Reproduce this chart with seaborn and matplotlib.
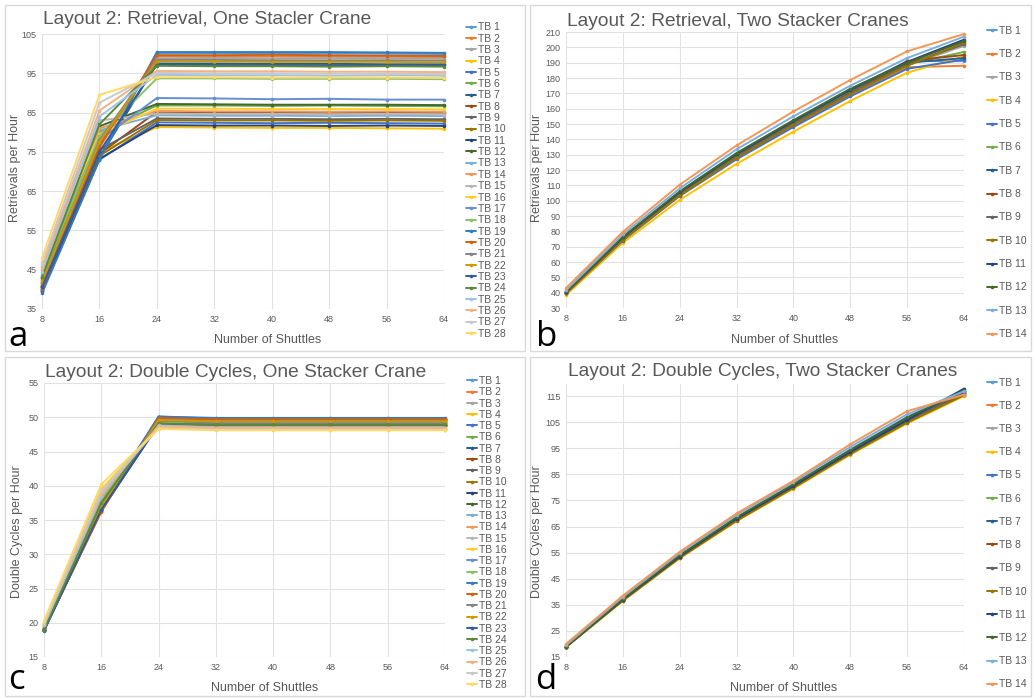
import numpy as np
import pandas as pd
import matplotlib
matplotlib.use("Agg")
import matplotlib.pyplot as plt
from matplotlib.patches import Rectangle
import seaborn as sns

# ---------------- data ----------------
shuttles = [8, 16, 24, 32, 40, 48, 56, 64]

labels28 = [f"TB {i}" for i in range(1, 29)]
labels14 = [f"TB {i}" for i in range(1, 15)]

excel_colors = ["#5B9BD5", "#ED7D31", "#A5A5A5", "#FFC000", "#4472C4", "#70AD47",
                "#255E91", "#9E480E", "#636363", "#997300", "#264478", "#43682B",
                "#7CAFDD", "#F1975A", "#B7B7B7", "#FFCD33", "#698ED0", "#8CC168",
                "#327DC2", "#D26012", "#848484", "#CC9A00", "#335AA1", "#5A8A39",
                "#9DC3E6", "#F4B183", "#C9C9C9", "#FFD966"]

# Panel a: Retrieval, one stacker crane
ret_one = {
    "TB 1": [39.5, 74.0, 100.0, 100.1, 100.0, 100.1, 100.0, 99.9],
    "TB 2": [40.5, 76.0, 99.3, 99.2, 99.3, 99.2, 99.2, 99.1],
    "TB 3": [41.0, 77.0, 98.8, 98.9, 98.8, 98.9, 98.8, 98.7],
    "TB 4": [41.5, 75.0, 81.3, 81.2, 81.1, 81.1, 81.0, 80.9],
    "TB 5": [39.8, 73.0, 82.5, 82.4, 82.3, 82.4, 82.3, 82.2],
    "TB 6": [42.5, 80.0, 86.8, 86.8, 86.7, 86.8, 86.7, 86.6],
    "TB 7": [40.0, 73.5, 97.5, 97.5, 97.4, 97.4, 97.3, 97.3],
    "TB 8": [40.5, 74.5, 85.2, 85.1, 85.1, 85.0, 85.1, 85.0],
    "TB 9": [40.8, 75.5, 83.5, 83.4, 83.4, 83.3, 83.4, 83.3],
    "TB 10": [41.0, 74.0, 83.1, 83.0, 83.0, 82.9, 83.0, 82.9],
    "TB 11": [39.5, 73.2, 81.8, 81.7, 81.7, 81.6, 81.7, 81.6],
    "TB 12": [43.0, 81.5, 87.2, 87.1, 87.0, 87.0, 87.0, 86.9],
    "TB 13": [44.0, 80.5, 84.3, 84.2, 84.2, 84.1, 84.2, 84.1],
    "TB 14": [45.0, 81.0, 85.4, 85.3, 85.3, 85.2, 85.3, 85.2],
    "TB 15": [46.0, 83.0, 84.7, 84.6, 84.6, 84.5, 84.6, 84.5],
    "TB 16": [47.0, 79.5, 86.0, 86.0, 85.9, 85.9, 85.9, 85.8],
    "TB 17": [42.0, 78.0, 88.7, 88.6, 88.4, 88.5, 88.3, 88.3],
    "TB 18": [43.5, 79.0, 93.7, 93.7, 93.6, 93.6, 93.6, 93.5],
    "TB 19": [39.0, 73.0, 100.4, 100.4, 100.4, 100.4, 100.3, 100.2],
    "TB 20": [40.0, 76.5, 99.6, 99.6, 99.7, 99.6, 99.5, 99.4],
    "TB 21": [41.5, 78.0, 98.4, 98.4, 98.3, 98.3, 98.3, 98.2],
    "TB 22": [42.0, 77.5, 98.0, 98.0, 97.9, 97.9, 97.9, 97.8],
    "TB 23": [40.5, 75.0, 97.2, 97.1, 97.1, 97.0, 97.1, 97.0],
    "TB 24": [43.2, 82.0, 96.9, 96.8, 96.8, 96.7, 96.8, 96.7],
    "TB 25": [44.5, 84.0, 94.6, 94.5, 94.5, 94.4, 94.5, 94.4],
    "TB 26": [45.5, 85.5, 95.6, 95.5, 95.5, 95.4, 95.4, 95.3],
    "TB 27": [46.5, 87.5, 95.1, 95.0, 95.0, 94.9, 94.9, 94.8],
    "TB 28": [48.0, 89.5, 94.0, 94.0, 93.9, 93.9, 93.9, 93.8],
}

# Panel b: Retrieval, two stacker cranes
ret_two = {
    "TB 1": [40.5, 76.0, 106.0, 131.0, 152.0, 172.0, 191.0, 191.0],
    "TB 2": [40.0, 75.0, 104.0, 128.0, 149.0, 169.0, 187.0, 188.0],
    "TB 3": [40.0, 75.0, 104.5, 129.0, 150.0, 170.5, 188.0, 201.0],
    "TB 4": [38.5, 72.5, 100.5, 124.0, 145.0, 165.0, 183.5, 194.0],
    "TB 5": [39.5, 74.0, 103.0, 127.0, 148.0, 168.0, 186.0, 192.0],
    "TB 6": [40.0, 75.5, 105.0, 129.5, 151.0, 171.0, 189.0, 197.0],
    "TB 7": [40.5, 75.5, 105.0, 130.0, 151.5, 172.0, 190.0, 193.0],
    "TB 8": [40.0, 75.0, 104.0, 128.5, 150.0, 170.0, 191.0, 195.0],
    "TB 9": [40.0, 75.5, 104.5, 129.0, 150.5, 170.5, 189.0, 202.0],
    "TB 10": [39.5, 74.5, 103.5, 128.0, 149.5, 169.5, 188.0, 203.0],
    "TB 11": [40.5, 76.0, 105.5, 130.5, 152.0, 172.5, 190.5, 205.0],
    "TB 12": [41.0, 76.5, 106.0, 131.0, 152.5, 173.0, 190.0, 204.0],
    "TB 13": [41.5, 78.0, 108.0, 133.5, 155.0, 175.0, 193.0, 207.0],
    "TB 14": [43.0, 79.7, 110.4, 136.0, 158.2, 178.7, 197.4, 208.7],
}

# Panel c: Double cycles, one stacker crane
dc_one = {
    "TB 1": [19.0, 37.0, 50.1, 49.8, 49.8, 49.8, 49.8, 49.8],
    "TB 2": [19.2, 36.8, 49.8, 49.6, 49.6, 49.6, 49.6, 49.6],
    "TB 3": [19.3, 37.5, 49.3, 49.0, 49.0, 49.0, 49.0, 49.0],
    "TB 4": [19.5, 38.0, 48.8, 48.5, 48.5, 48.5, 48.5, 48.5],
    "TB 5": [19.0, 37.2, 50.0, 49.7, 49.7, 49.7, 49.7, 49.7],
    "TB 6": [19.2, 37.5, 49.5, 49.3, 49.3, 49.2, 49.3, 49.2],
    "TB 7": [18.9, 36.6, 49.0, 48.9, 48.9, 48.9, 48.9, 48.9],
    "TB 8": [19.0, 36.3, 49.9, 49.6, 49.7, 49.6, 49.6, 49.6],
    "TB 9": [19.0, 36.5, 49.6, 49.4, 49.4, 49.4, 49.4, 49.4],
    "TB 10": [19.1, 36.8, 49.6, 49.3, 49.3, 49.3, 49.3, 49.3],
    "TB 11": [18.9, 36.4, 48.9, 48.8, 48.8, 48.8, 48.8, 48.8],
    "TB 12": [19.0, 37.0, 49.2, 48.9, 48.9, 48.9, 48.9, 48.9],
    "TB 13": [19.3, 38.0, 49.4, 49.1, 49.1, 49.1, 49.1, 49.1],
    "TB 14": [19.5, 38.3, 49.0, 48.7, 48.7, 48.7, 48.7, 48.7],
    "TB 15": [19.6, 38.8, 48.6, 48.3, 48.3, 48.3, 48.3, 48.3],
    "TB 16": [20.0, 39.5, 48.5, 48.3, 48.3, 48.2, 48.3, 48.2],
    "TB 17": [19.1, 37.3, 49.8, 49.6, 49.6, 49.6, 49.6, 49.6],
    "TB 18": [19.3, 37.8, 49.3, 49.1, 49.1, 49.1, 49.1, 49.1],
    "TB 19": [18.8, 36.5, 50.1, 49.9, 49.9, 49.9, 49.9, 49.9],
    "TB 20": [19.0, 36.2, 49.9, 49.7, 49.7, 49.7, 49.7, 49.7],
    "TB 21": [19.2, 37.0, 49.5, 49.2, 49.2, 49.2, 49.2, 49.2],
    "TB 22": [19.2, 37.0, 49.6, 49.4, 49.4, 49.4, 49.4, 49.4],
    "TB 23": [18.9, 36.5, 49.0, 48.9, 48.9, 48.9, 48.9, 48.9],
    "TB 24": [19.0, 37.5, 49.1, 48.9, 48.9, 48.9, 48.9, 48.9],
    "TB 25": [19.6, 38.5, 48.8, 48.5, 48.5, 48.5, 48.5, 48.5],
    "TB 26": [19.8, 38.8, 48.7, 48.4, 48.4, 48.4, 48.4, 48.4],
    "TB 27": [19.9, 39.2, 48.4, 48.2, 48.2, 48.2, 48.2, 48.2],
    "TB 28": [20.3, 40.2, 48.3, 48.1, 48.1, 48.1, 48.1, 48.1],
}

# Panel d: Double cycles, two stacker cranes
dc_two = {
    "TB 1": [19.2, 37.5, 54.0, 68.5, 81.0, 94.5, 107.0, 116.5],
    "TB 2": [19.0, 37.0, 53.5, 68.0, 80.5, 93.5, 105.5, 116.0],
    "TB 3": [19.0, 37.0, 53.5, 68.0, 80.5, 93.5, 106.0, 116.0],
    "TB 4": [18.8, 36.5, 52.8, 67.0, 79.5, 92.5, 104.5, 115.0],
    "TB 5": [19.0, 37.0, 53.5, 67.8, 80.5, 93.5, 105.5, 116.0],
    "TB 6": [19.0, 37.2, 53.8, 68.2, 81.0, 94.0, 106.5, 116.5],
    "TB 7": [19.0, 37.0, 53.6, 68.0, 80.8, 93.8, 106.0, 116.8],
    "TB 8": [18.9, 36.8, 53.2, 67.5, 80.0, 93.0, 105.0, 115.5],
    "TB 9": [19.0, 37.0, 53.5, 67.8, 80.5, 93.3, 105.5, 116.2],
    "TB 10": [18.8, 36.6, 53.0, 67.2, 79.8, 92.8, 104.8, 115.3],
    "TB 11": [19.0, 37.0, 53.5, 68.0, 80.5, 93.5, 105.8, 117.8],
    "TB 12": [19.0, 37.3, 54.0, 68.5, 81.2, 94.3, 106.8, 117.0],
    "TB 13": [19.5, 38.0, 54.8, 69.5, 82.0, 95.5, 108.0, 116.8],
    "TB 14": [20.0, 38.5, 55.3, 70.0, 82.5, 96.5, 109.2, 115.5],
}

titles = ["Layout 2: Retrieval, One Stacler Crane",
          "Layout 2: Retrieval, Two Stacker Cranes",
          "Layout 2: Double Cycles, One Stacker Crane",
          "Layout 2: Double Cycles, Two Stacker Cranes"]
ylabels = ["Retrievals per Hour", "Retrievals per Hour",
           "Double Cycles per Hour", "Double Cycles per Hour"]
xlabel = "Number of Shuttles"
letters = ["a", "b", "c", "d"]

# ---------------- style ----------------
sns.set_style("white")
plt.rcParams["font.family"] = ["Liberation Sans", "DejaVu Sans"]
GRAY = "#595959"
GRID = "#E2E2E2"
FRAME = "#D9D9D9"

W, H = 1034, 698
fig = plt.figure(figsize=(W / 100, H / 100), dpi=100)


def fx(x):
    return x / W


def fy(y):
    return 1 - y / H


def long_df(d):
    rows = []
    for name, vals in d.items():
        for s, v in zip(shuttles, vals):
            rows.append((name, s, v))
    return pd.DataFrame(rows, columns=["series", "shuttles", "value"])


# panel frames
for (x0, y0, x1, y1) in [(5, 5, 525, 351), (530, 5, 1031, 351),
                         (5, 357, 525, 696), (530, 357, 1031, 696)]:
    fig.patches.append(Rectangle((fx(x0), fy(y1)), (x1 - x0) / W, (y1 - y0) / H,
                                 transform=fig.transFigure, fill=False,
                                 edgecolor=FRAME, lw=1.0))

panels = [
    dict(data=ret_one, labels=labels28, box=(42, 34, 444, 309), ylim=(35, 105),
         yticks=list(range(35, 106, 10)), title_xy=(43, 20),
         ylab_xy=(15, 168), xlab_xy=(268, 340), letter_xy=(8, 346),
         leg_xy=(466, 180.5), leg_spacing=0.13),
    dict(data=ret_two, labels=labels14, box=(566, 32, 964, 308), ylim=(30, 210),
         yticks=list(range(30, 211, 10)), title_xy=(567, 22),
         ylab_xy=(537, 168), xlab_xy=(785, 340), letter_xy=(536, 346),
         leg_xy=(987, 182.5), leg_spacing=1.28),
    dict(data=dc_one, labels=labels28, box=(44, 383, 445, 657), ylim=(15, 55),
         yticks=list(range(15, 56, 5)), title_xy=(45, 372),
         ylab_xy=(17, 532), xlab_xy=(265, 688), letter_xy=(8, 689),
         leg_xy=(467, 533), leg_spacing=0.12),
    dict(data=dc_two, labels=labels14, box=(566, 384, 964, 657), ylim=(15, 119.6),
         yticks=list(range(15, 116, 10)), title_xy=(568, 371),
         ylab_xy=(537, 532), xlab_xy=(784, 688), letter_xy=(535, 689),
         leg_xy=(987, 533.5), leg_spacing=1.27),
]

for i, p in enumerate(panels):
    x0, y0, x1, y1 = p["box"]
    ax = fig.add_axes([fx(x0), fy(y1), (x1 - x0) / W, (y1 - y0) / H])
    df = long_df(p["data"])
    n = len(p["labels"])
    sns.lineplot(data=df, x="shuttles", y="value", hue="series",
                 hue_order=p["labels"], palette=excel_colors[:n],
                 marker="o", markersize=2.6, markeredgewidth=0,
                 linewidth=1.4, ax=ax, legend=True)
    for ln in ax.lines:
        ln.set_clip_on(False)
    handles, labs = ax.get_legend_handles_labels()
    if ax.get_legend() is not None:
        ax.get_legend().remove()

    ax.set_xlim(8, 64)
    ax.set_ylim(*p["ylim"])
    ax.set_xticks(shuttles)
    ax.set_yticks(p["yticks"])
    ax.grid(True, color=GRID, lw=0.8)
    ax.set_axisbelow(True)
    for s in ax.spines.values():
        s.set_visible(False)
    ax.tick_params(axis="both", length=0, labelsize=6.5, labelcolor=GRAY, pad=4)
    ax.set_xlabel("")
    ax.set_ylabel("")

    fig.text(fx(p["title_xy"][0]), fy(p["title_xy"][1]), titles[i],
             fontsize=13.8, color=GRAY, ha="left", va="center")
    fig.text(fx(p["ylab_xy"][0]), fy(p["ylab_xy"][1]), ylabels[i],
             fontsize=9, color=GRAY, ha="center", va="center", rotation=90)
    fig.text(fx(p["xlab_xy"][0]), fy(p["xlab_xy"][1]), xlabel,
             fontsize=9, color=GRAY, ha="center", va="center")
    fig.text(fx(p["letter_xy"][0]), fy(p["letter_xy"][1]), letters[i],
             fontsize=25, color="black", ha="left", va="baseline",
             family=["Open Sans", "DejaVu Sans"])

    fig.legend(handles, labs, loc="center left",
               bbox_to_anchor=(fx(p["leg_xy"][0]), fy(p["leg_xy"][1])),
               frameon=False, fontsize=7.5, labelspacing=p["leg_spacing"],
               handlelength=1.0, handletextpad=0.15, borderpad=0,
               borderaxespad=0, labelcolor=GRAY)

fig.savefig("out.png", dpi=100)
